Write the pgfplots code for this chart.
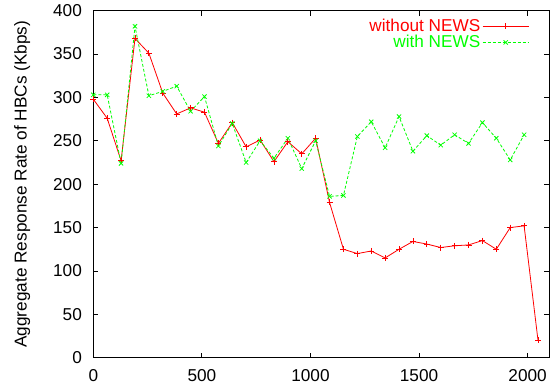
\documentclass[border=0pt]{standalone}
\usepackage{fontspec}
\setmainfont{Liberation Sans}
\usepackage{pgfplots}
\pgfplotsset{compat=1.18}
\newcommand{\chfont}{\fontsize{17.2bp}{20bp}\selectfont}
\begin{document}
\chfont
\begin{tikzpicture}
\path[use as bounding box] (-93.3bp,-27.3bp) rectangle (460.7bp,357.7bp);
\begin{axis}[
  at={(0,0)}, anchor=south west,
  scale only axis, width=456bp, height=347bp,
  xmin=0, xmax=2100, ymin=0, ymax=400,
  xtick={0,500,...,2000}, ytick={0,50,...,400},
  tick align=inside, major tick length=5bp,
  axis line style={line width=0.8bp},
  tick style={black, line width=0.8bp},
  /pgf/number format/assume math mode=true,
  /pgf/number format/set thousands separator={},
  ticklabel style={font=\chfont},
  xticklabel style={yshift=-5.5bp},
  yticklabel style={xshift=-5.5bp},
  ylabel={Aggregate Response Rate of HBCs (Kbps)},
  ylabel style={at={(axis description cs:-0.1557,0.5)}, anchor=center, font=\chfont},
  legend style={draw=none, fill=none, at={(axis description cs:1,1)}, anchor=north east, xshift=-17bp, yshift=-4bp, font=\chfont, row sep=-3bp},
  legend cell align=right,
  legend plot pos=right,
  legend image code/.code={\draw[mark repeat=2,mark phase=2,#1] plot coordinates {(5bp,0bp) (28bp,0bp) (51bp,0bp)};},
]
\addlegendimage{red, line width=0.8bp, mark=+, mark size=3bp, mark options={solid}}
\addlegendentry{\textcolor{red}{without NEWS}}
\addlegendimage{green, line width=0.8bp, dash pattern=on 3bp off 2bp, mark=x, mark size=3bp, mark options={solid}}
\addlegendentry{\textcolor{green}{with NEWS}}
\addplot[red, line width=0.8bp, mark=+, mark size=3bp, forget plot] coordinates {
(0,298) (64,276) (128,227) (192,368) (256,351) (320,305) (384,281) (448,288)
(512,283) (576,247) (640,271) (704,243) (768,251) (832,226) (896,249) (960,235)
(1024,253) (1088,179) (1152,125) (1216,120) (1280,123) (1344,115) (1408,125)
(1472,134) (1536,131) (1600,127) (1664,129) (1728,130) (1792,135) (1856,125)
(1920,150) (1984,152) (2048,20)};
\addplot[green, line width=0.8bp, dash pattern=on 3bp off 2bp, mark=x, mark size=3bp, mark options={solid}, forget plot] coordinates {
(0,303) (64,303) (128,224) (192,382) (256,302) (320,307) (384,313) (448,284)
(512,301) (576,244) (640,270) (704,225) (768,250) (832,230) (896,253) (960,218)
(1024,250) (1088,186) (1152,187) (1216,255) (1280,272) (1344,242) (1408,278)
(1472,238) (1536,256) (1600,245) (1664,257) (1728,247) (1792,271) (1856,253)
(1920,228) (1984,257)};
\end{axis}
\end{tikzpicture}
\end{document}
